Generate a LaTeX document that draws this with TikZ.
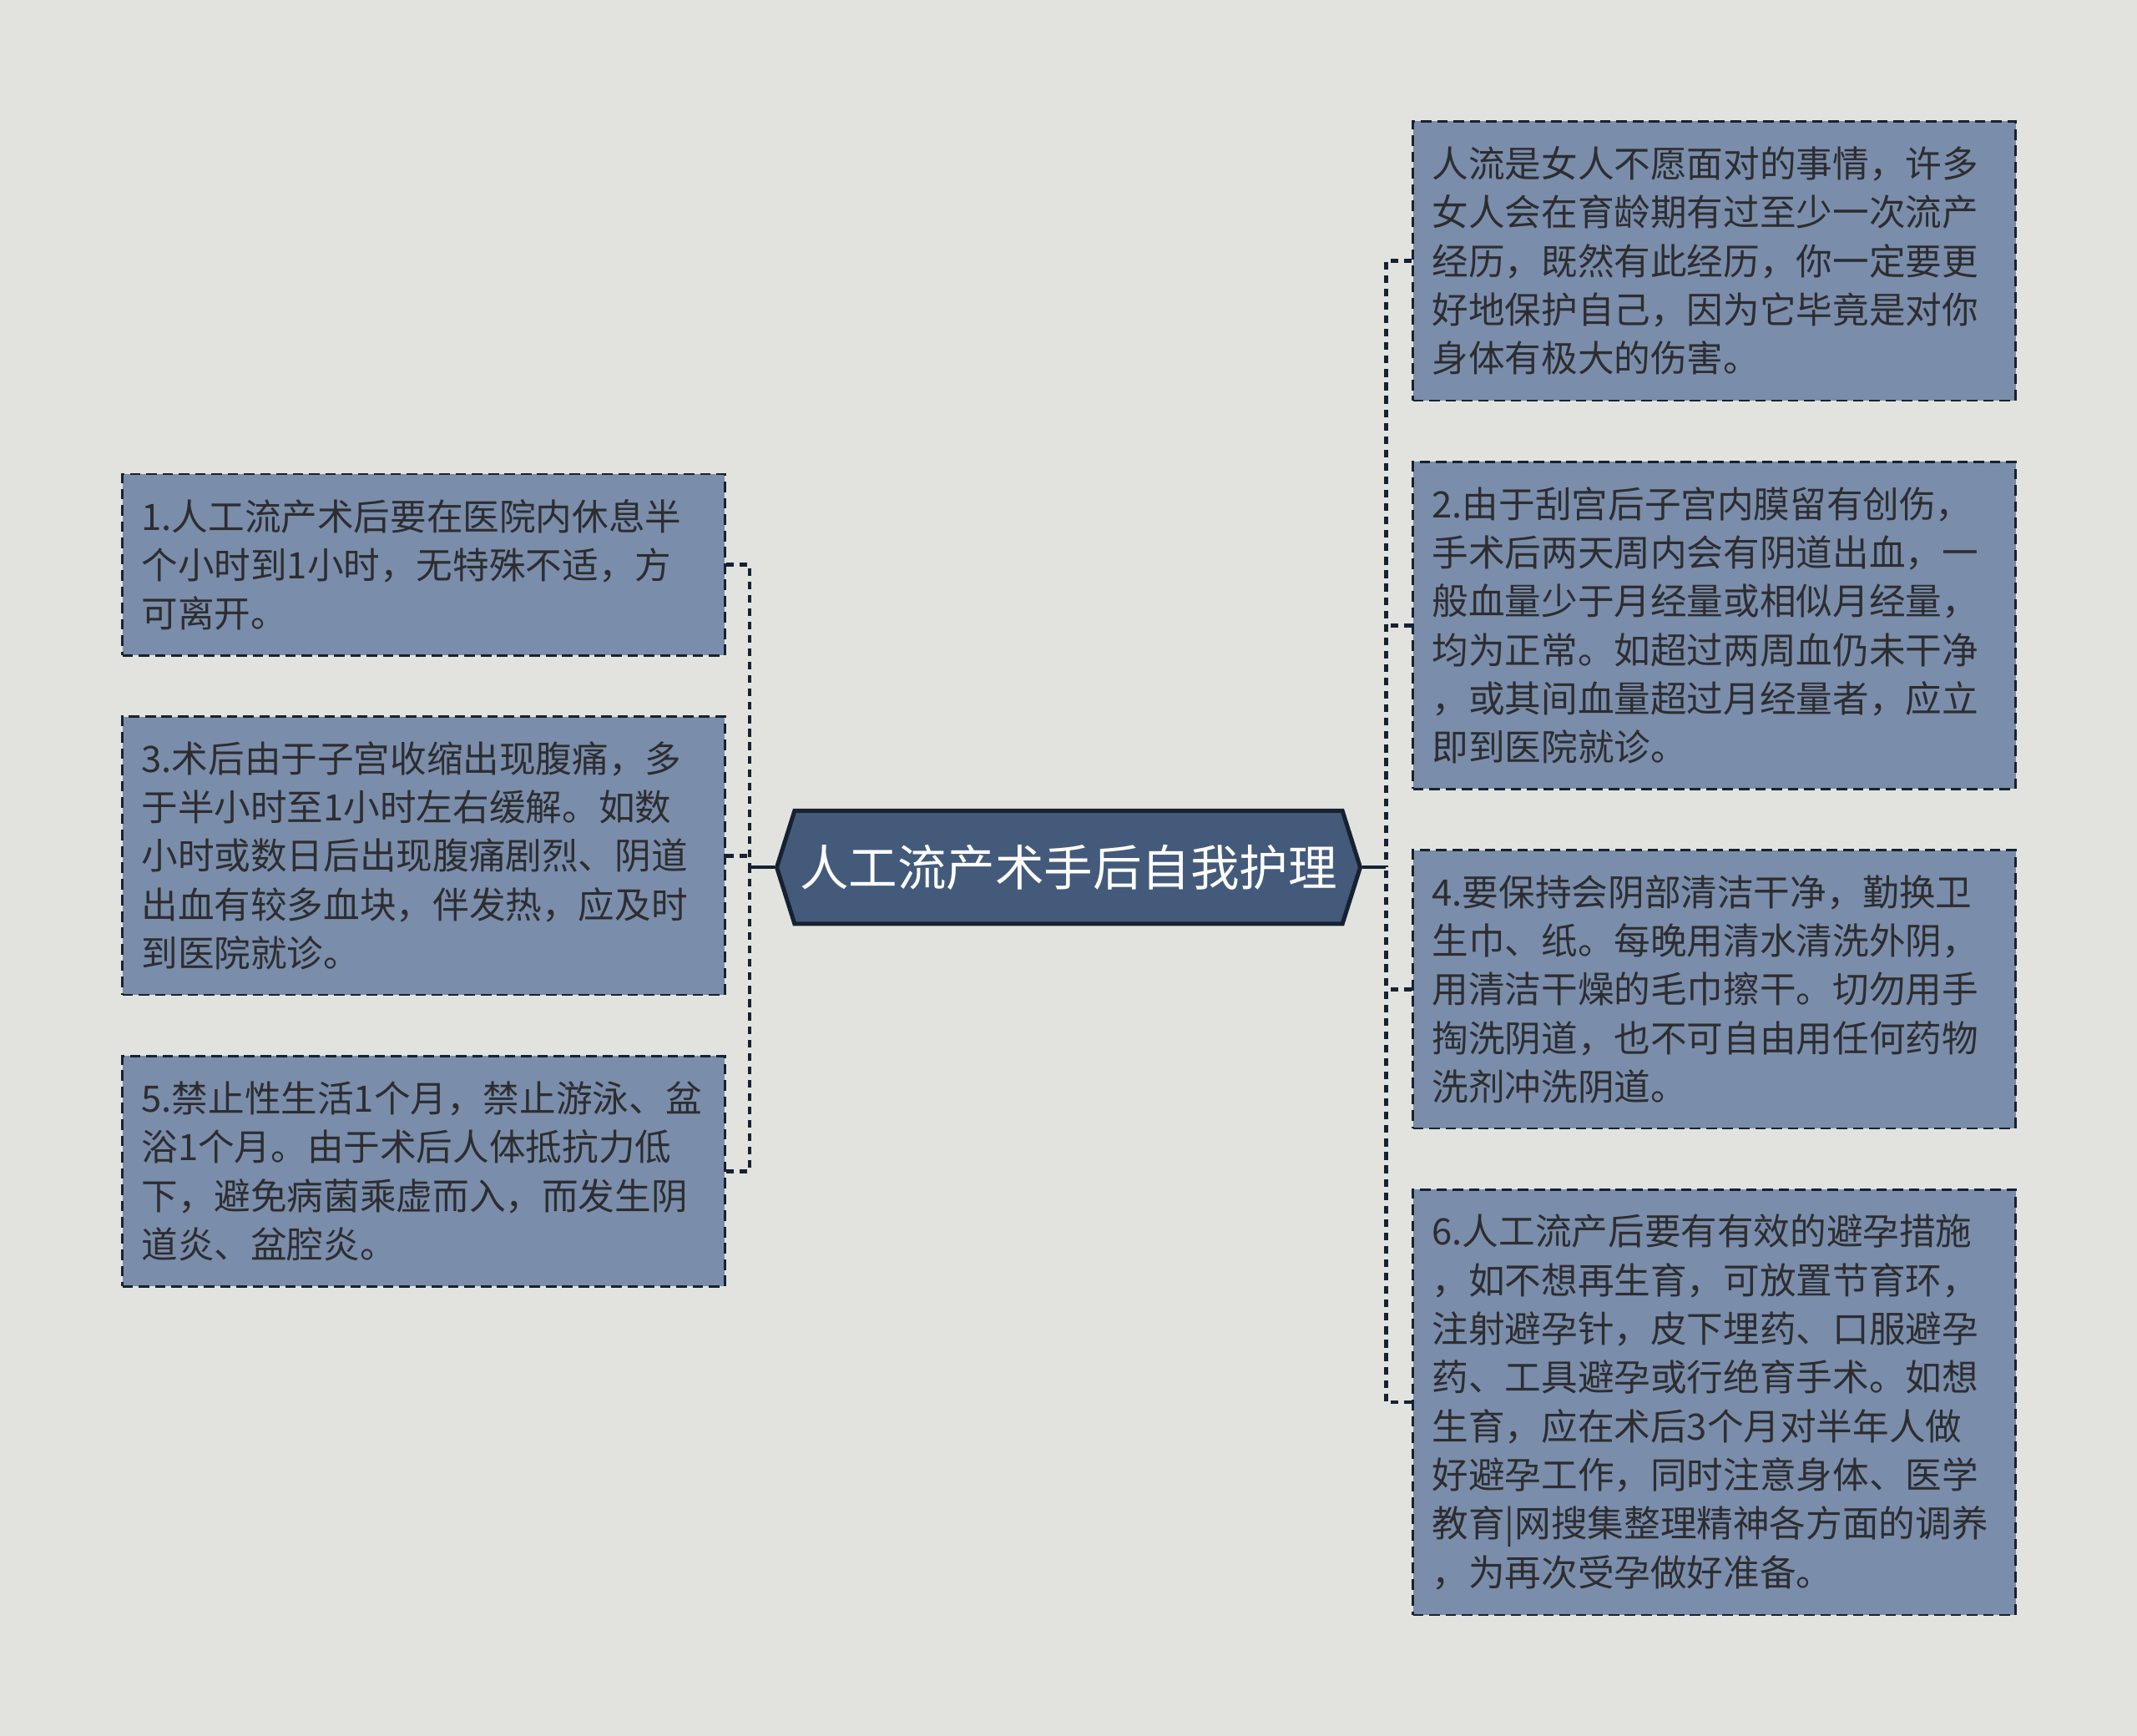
\documentclass[tikz,border=0pt]{standalone}
\usepackage{fontspec}
\setmainfont{Noto Sans CJK SC}
\usetikzlibrary{shapes.symbols}
\definecolor{bgpaper}{RGB}{226,227,222}
\definecolor{tipfill}{RGB}{122,141,170}
\definecolor{hubfill}{RGB}{67,90,122}
\definecolor{hubline}{RGB}{22,34,50}
\definecolor{tiptext}{RGB}{45,45,48}

\begin{document}
\begin{tikzpicture}[x=0.025cm, y=-0.025cm,
  tip/.style={draw=hubline, fill=tipfill, line width=1.1pt, dash pattern=on 5.5pt off 3pt,
    text=tiptext, align=left, text width=10.35cm, inner xsep=0.35cm, inner ysep=0pt,
    anchor=west, font=\fontsize{19}{25.4}\selectfont},
  hub/.style={signal, signal to=west and east, signal pointer angle=145, fill=hubfill,
    draw=hubline, line width=2.2pt, text=white, minimum width=10.7cm, minimum height=2.075cm,
    inner sep=0pt, font=\fontsize{25.5}{30}\selectfont},
  link/.style={draw=hubline, line width=2.1pt, dash pattern=on 4pt off 3pt},
  stem/.style={draw=hubline, line width=2pt}]
  \useasboundingbox[fill=bgpaper] (0,0) rectangle (1568,1274);
  % root
  \node[hub] (root) at (784,636.5) {人工流产术手后自我护理};
  % left tips
  \node[tip, minimum height=3.325cm] (t1) at (89,414.5) {1.人工流产术后要在医院内休息半\\个小时到1小时，无特殊不适，方\\可离开。};
  \node[tip, minimum height=5.1cm] (t3) at (89,628) {3.术后由于子宫收缩出现腹痛，多\\于半小时至1小时左右缓解。如数\\小时或数日后出现腹痛剧烈、阴道\\出血有较多血块，伴发热，应及时\\到医院就诊。};
  \node[tip, minimum height=4.225cm] (t5) at (89,859.5) {5.禁止性生活1个月，禁止游泳、盆\\浴1个月。由于术后人体抵抗力低\\下，避免病菌乘虚而入，而发生阴\\道炎、盆腔炎。};
  % right tips
  \node[tip, minimum height=5.125cm] (t0) at (1036,191.5) {人流是女人不愿面对的事情，许多\\女人会在育龄期有过至少一次流产\\经历，既然有此经历，你一定要更\\好地保护自己，因为它毕竟是对你\\身体有极大的伤害。};
  \node[tip, minimum height=6cm] (t2) at (1036,459) {2.由于刮宫后子宫内膜留有创伤，\\手术后两天周内会有阴道出血，一\\般血量少于月经量或相似月经量，\\均为正常。如超过两周血仍未干净\\，或其间血量超过月经量者，应立\\即到医院就诊。};
  \node[tip, minimum height=5.1cm] (t4) at (1036,726) {4.要保持会阴部清洁干净，勤换卫\\生巾、纸。每晚用清水清洗外阴，\\用清洁干燥的毛巾擦干。切勿用手\\掏洗阴道，也不可自由用任何药物\\洗剂冲洗阴道。};
  \node[tip, minimum height=7.8cm] (t6) at (1036,1029) {6.人工流产后要有有效的避孕措施\\，如不想再生育，可放置节育环，\\注射避孕针，皮下埋药、口服避孕\\药、工具避孕或行绝育手术。如想\\生育，应在术后3个月对半年人做\\好避孕工作，同时注意身体、医学\\教育|网搜集整理精神各方面的调养\\，为再次受孕做好准备。};
  % joints
  \coordinate (lj) at (550,636.5);
  \coordinate (rj) at (1017,636.5);
  \draw[stem] (root.west) -- (lj);
  \draw[stem] (root.east) -- (rj);
  \draw[link] (t1.east) -| (lj);
  \draw[link] (t5.east) -| (lj);
  \draw[link] (t3.east) -- (t3.east -| lj);
  \draw[link] (t0.west) -| (rj);
  \draw[link] (t6.west) -| (rj);
  \draw[link] (t2.west) -- (t2.west -| rj);
  \draw[link] (t4.west) -- (t4.west -| rj);
\end{tikzpicture}
\end{document}
